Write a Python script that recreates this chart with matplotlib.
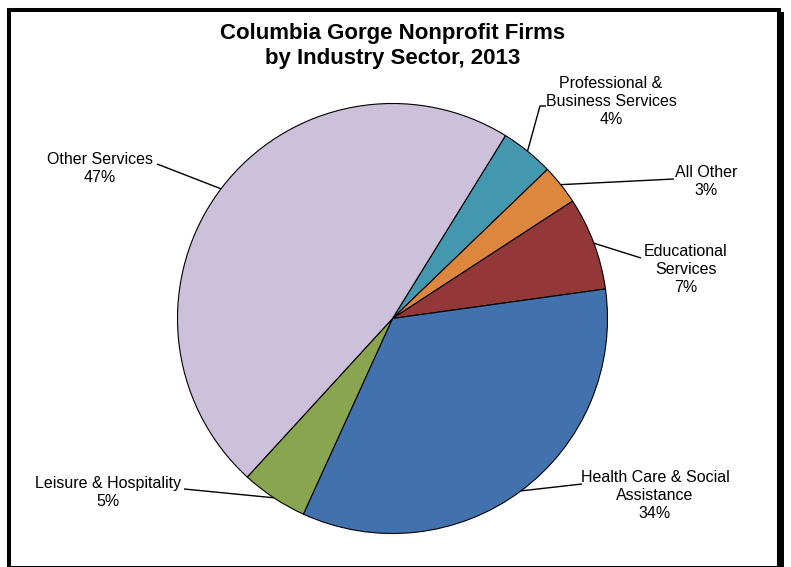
import matplotlib.pyplot as plt
from matplotlib.patches import Rectangle
import numpy as np

plt.rcParams['font.family'] = ['Liberation Sans', 'DejaVu Sans']

# nonprofit firms by sector, percent of total
sectors = ['Professional &\nBusiness Services', 'All Other', 'Educational\nServices',
           'Health Care & Social\nAssistance', 'Leisure & Hospitality', 'Other Services']
shares = [4, 3, 7, 34, 5, 47]
colors = ['#4398AF', '#DC863E', '#933738', '#4172AD', '#89A550', '#CCC0DA']

W, H = 791, 567
fig = plt.figure(figsize=(W / 100, H / 100), dpi=100)
ax = fig.add_axes([0, 0, 1, 1])

cx, cy, r = 392.5, H - 318.5, 215
wedges, _ = ax.pie(shares, colors=colors, startangle=58.3, counterclock=False,
                   center=(cx, cy), radius=r, frame=True,
                   wedgeprops=dict(edgecolor='black', linewidth=0.8))
ax.set_xlim(0, W)
ax.set_ylim(0, H)
ax.set_aspect('equal')
ax.axis('off')

# label text top-centre (px from top-left) and leader elbow points
label_pos = [
    ((611, 76), [(540, 106), (546, 106)]),
    ((706, 165), [(674, 179)]),
    ((686, 244), [(641, 258)]),
    ((655, 470), [(582, 484)]),
    ((108, 476), [(184, 489)]),
    ((100, 152), [(157, 164)]),
]

for w, name, pct, (tpos, pts) in zip(wedges, sectors, shares, label_pos):
    mid = np.deg2rad((w.theta1 + w.theta2) / 2)
    x0, y0 = cx + r * np.cos(mid), cy + r * np.sin(mid)
    xs = [x0] + [p[0] for p in pts]
    ys = [y0] + [H - p[1] for p in pts]
    ax.plot(xs, ys, color='black', lw=1.0, solid_capstyle='butt')
    ax.text(tpos[0], H - tpos[1], f'{name}\n{pct}%', ha='center', va='top',
            fontsize=11.5, linespacing=1.25)

fig.text(393 / W, 1 - 23 / H, 'Columbia Gorge Nonprofit Firms\nby Industry Sector, 2013',
         ha='center', va='top', fontsize=16, fontweight='bold', linespacing=1.25)

# outer frame with a small drop shadow on the right
ax.add_patch(Rectangle((9, -1), 770, H - 10 + 1, fill=False, lw=2.9,
                       edgecolor='black', clip_on=False))
ax.add_patch(Rectangle((779, 0), 5.3, H - 12, facecolor='black', lw=0, clip_on=False))

fig.savefig('out.png', dpi=100, facecolor='white')
